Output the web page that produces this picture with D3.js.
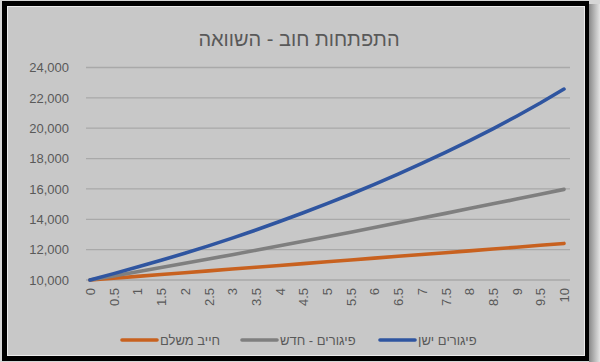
<!DOCTYPE html>
<meta charset="utf-8">
<style>
body { margin: 0; background: #d6d6d6; }
.line { fill: none; stroke-width: 3.6px; stroke-linejoin: round; stroke-linecap: round; }
</style>
<body>
<div id="chart"></div>
<script src="https://cdnjs.cloudflare.com/ajax/libs/d3/7.8.5/d3.min.js"></script>
<script>
    // data
    var years = ["0","0.5","1","1.5","2","2.5","3","3.5","4","4.5","5","5.5","6","6.5","7","7.5","8","8.5","9","9.5","10"];
    var payer = [10000,10120,10240,10360,10480,10600,10730,10840,10960,11080,11200,11320,11440,11570,11680,11800,11920,12040,12160,12290,12410];
    var arrearsNew = [10000,10270,10550,10820,11100,11390,11670,11960,12250,12550,12850,13150,13460,13770,14080,14390,14710,15020,15330,15650,15970];
    var arrearsOld = [10000,10420,10850,11300,11760,12250,12760,13290,13850,14430,15030,15650,16300,16980,17680,18410,19170,19960,20790,21660,22580];
    var yTicks = [10000,12000,14000,16000,18000,20000,22000,24000];

    var series = [
        {name: "חייב משלם", values: payer, color: "#c8611f"},
        {name: "פיגורים - חדש", values: arrearsNew, color: "#7f7f7f"},
        {name: "פיגורים ישן", values: arrearsOld, color: "#2f55a0"}
    ];

    var W = 600, H = 362;
    var svg = d3.select("#chart").append("svg")
        .attr("width", W)
        .attr("height", H)
        .style("display", "block")
        .style("font-family", "'Liberation Sans', Arial, sans-serif");

    // shadow to the right and frame
    var grad = svg.append("defs").append("linearGradient").attr("id", "shade");
    grad.append("stop").attr("offset", "0%").attr("stop-color", "#8a8a8a");
    grad.append("stop").attr("offset", "100%").attr("stop-color", "#e4e4e4");
    svg.append("rect").attr("x", 589).attr("y", 4).attr("width", 11).attr("height", H).attr("fill", "url(#shade)");
    svg.append("rect").attr("x", 2).attr("y", 1).attr("width", 587).attr("height", 360).attr("fill", "#000");
    svg.append("rect").attr("x", 7).attr("y", 6).attr("width", 578).attr("height", 350).attr("fill", "#ececec");
    svg.append("rect").attr("x", 8).attr("y", 7).attr("width", 576).attr("height", 348).attr("fill", "#c8c8c8");

    // scales
    var x = d3.scalePoint().domain(years).range([90, 564]);
    var y = d3.scaleLinear().domain([10000, 24000]).range([280, 67.5]);

    // gridlines
    svg.append("g").selectAll("line")
        .data(yTicks)
        .enter().append("line")
        .attr("x1", 86).attr("x2", 570)
        .attr("y1", function(d) { return y(d); })
        .attr("y2", function(d) { return y(d); })
        .attr("stroke", "#a9a9a9")
        .attr("stroke-width", 1.3);

    // y axis labels
    var yAxis = svg.append("g")
        .attr("transform", "translate(78,0)")
        .call(d3.axisLeft(y).tickValues(yTicks).tickSize(0).tickPadding(9).tickFormat(d3.format(",")));
    yAxis.select(".domain").remove();
    yAxis.selectAll("text").attr("fill", "#595959").style("font-size", "13px").style("font-family", "'Liberation Sans', Arial, sans-serif");

    // x axis labels, rotated
    var xAxis = svg.append("g")
        .attr("transform", "translate(0,280)")
        .call(d3.axisBottom(x).tickSize(0).tickPadding(0));
    xAxis.select(".domain").remove();
    xAxis.selectAll("text")
        .attr("fill", "#595959")
        .style("font-size", "13px")
        .style("font-family", "'Liberation Sans', Arial, sans-serif")
        .attr("text-anchor", "end")
        .attr("dy", "0.35em")
        .attr("transform", "translate(0,8) rotate(-90)")
        .attr("x", 0).attr("y", 0);

    // the lines
    var line = d3.line()
        .x(function(d, i) { return x(years[i]); })
        .y(function(d) { return y(d); });
    series.forEach(function(s) {
        svg.append("path")
            .attr("class", "line")
            .attr("stroke", s.color)
            .attr("d", line(s.values));
    });

    // title
    svg.append("text")
        .attr("x", 299)
        .attr("y", 46)
        .attr("text-anchor", "middle")
        .attr("fill", "#595959")
        .style("font-size", "20px")
        .text("התפתחות חוב - השוואה");

    // legend
    var legX = [122, 242, 380];
    var legend = svg.append("g").selectAll("g")
        .data(series)
        .enter().append("g")
        .attr("transform", function(d, i) { return "translate(" + legX[i] + ",340)"; });
    legend.append("line")
        .attr("x1", 0).attr("x2", 35)
        .attr("stroke", function(d) { return d.color; })
        .attr("stroke-width", 3.6)
        .attr("stroke-linecap", "round");
    legend.append("text")
        .attr("x", 38)
        .attr("dy", "0.35em")
        .attr("fill", "#595959")
        .style("font-size", "13px")
        .attr("direction", "rtl")
        .attr("text-anchor", "end")
        .text(function(d) { return d.name; });
</script>
</body>
